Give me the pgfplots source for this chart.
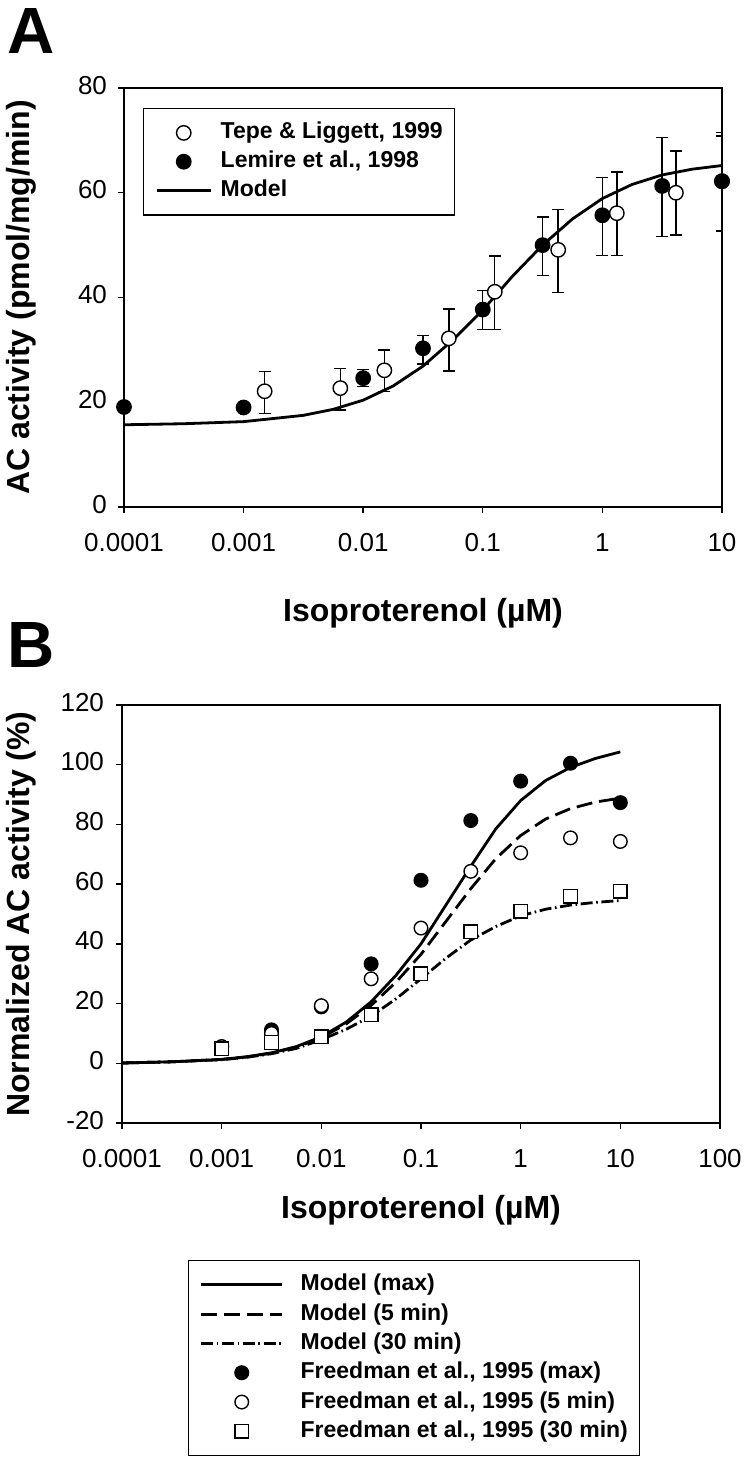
\documentclass[border=0pt]{standalone}
\usepackage{fontspec}
\setmainfont{Liberation Sans}
\usepackage{pgfplots}
\pgfplotsset{compat=1.18}

\begin{document}
\begin{tikzpicture}
\useasboundingbox (-62pt,-478pt) rectangle (312pt,253.5pt);

\node[font=\bfseries\fontsize{32.7}{34}\selectfont] at (-46.5pt,238pt) {A};
\node[font=\bfseries\fontsize{32.7}{34}\selectfont] at (-46.5pt,-69pt) {B};

% ---- panel A
\begin{axis}[
  scale only axis, width=299pt, height=209.5pt,
  at={(0pt,0pt)}, anchor=south west,
  xmode=log, xminorticks=false,
  tick pos=left, tick align=outside, major tick length=3pt,
  axis line style={line width=0.7pt},
  every tick/.style={black, line width=0.7pt},
  /pgf/number format/assume math mode=true,
  typeset ticklabels with strut,
  tick label style={font=\fontsize{13}{15}\selectfont},
  xticklabel style={yshift=-5pt},
  yticklabel style={xshift=-2pt},
  label style={font=\bfseries\fontsize{16}{18}\selectfont},
  xmin=0.0001, xmax=10, ymin=0, ymax=80,
  xtick={0.0001,0.001,0.01,0.1,1,10},
  xticklabels={0.0001,0.001,0.01,0.1,1,10},
  ytick={0,20,40,60,80},
  yticklabels={0,20,40,60,80},
  xlabel={Isoproterenol (µM)},
  ylabel={AC activity (pmol/mg/min)},
  xlabel style={at={(axis description cs:0.5,-0.253)}, anchor=center},
  ylabel style={at={(axis description cs:-0.171,0.5)}, anchor=center},
  legend cell align=left,
  legend image code/.code={\draw[mark repeat=2,mark phase=2,#1] plot coordinates {(0pt,0pt) (13.5pt,0pt) (27pt,0pt)};},
  legend style={at={(0.032,0.953)}, anchor=north west, draw=black,
    line width=0.6pt, inner xsep=5.8pt, inner ysep=6.3pt, row sep=2.4pt,
    font=\bfseries\fontsize{11.5}{13}\selectfont,
    nodes={inner sep=0pt, text height=9pt, text depth=3pt},
    /tikz/every odd column/.append style={column sep=4.3pt}},
]
% model
\addplot[black, line width=1.4pt, forget plot] coordinates {
 (0.0001,15.7) (0.0003162,15.9) (0.001,16.3) (0.003162,17.5) (0.005623,18.65)
 (0.01,20.4) (0.01778,23.1) (0.03162,26.9) (0.05623,31.9) (0.1,37.6)
 (0.1778,44.1) (0.3162,50.0) (0.5623,55.0) (1,58.9) (1.778,61.6)
 (3.162,63.4) (5.623,64.5) (10,65.2)};
% Tepe & Liggett 1999
\addplot[only marks, mark=*, mark size=3.6pt,
  mark options={fill=white, draw=black, line width=0.7pt},
  error bars/.cd, y dir=both, y explicit,
  error bar style={line width=0.7pt},
  error mark options={rotate=90, line width=0.7pt, mark size=3pt}]
 coordinates {
 (0.0015,22.1) += (0,3.8) -= (0,4.2)
 (0.00644,22.7) += (0,3.7) -= (0,4.2)
 (0.01503,26.1) += (0,3.9) -= (0,4.1)
 (0.052,32.2) += (0,5.6) -= (0,6.2)
 (0.126,41.1) += (0,6.8) -= (0,7.2)
 (0.427,49.1) += (0,7.7) -= (0,8.1)
 (1.32,56.1) += (0,7.9) -= (0,8.1)
 (4.12,60.0) += (0,8.0) -= (0,8.1)
 (10,62.2) += (0,9.3) -= (0,9.5)};
\addlegendentry{Tepe \& Liggett, 1999}
% Lemire et al. 1998
\addplot[only marks, mark=*, mark size=3.6pt,
  mark options={fill=black, draw=black, line width=0.7pt},
  error bars/.cd, y dir=both, y explicit,
  error bar style={line width=0.7pt},
  error mark options={rotate=90, line width=0.7pt, mark size=3pt}]
 coordinates {
 (0.0001,19.1) += (0,0.9) -= (0,0.9)
 (0.001,19.0) += (0,0.8) -= (0,0.8)
 (0.01,24.6) += (0,1.6) -= (0,1.6)
 (0.03162,30.3) += (0,2.5) -= (0,3.0)
 (0.1,37.7) += (0,3.6) -= (0,3.8)
 (0.3162,50.0) += (0,5.4) -= (0,5.8)
 (1,55.7) += (0,7.2) -= (0,7.7)
 (3.162,61.3) += (0,9.2) -= (0,9.6)
 (10,62.2) += (0,8.6) -= (0,9.6)};
\addlegendentry{Lemire et al., 1998}
\addlegendimage{black, line width=1.4pt}
\addlegendentry{Model}
\end{axis}

% ---- panel B
\begin{axis}[
  scale only axis, width=299pt, height=209pt,
  at={(-1pt,-308pt)}, anchor=south west,
  xmode=log, xminorticks=false,
  tick pos=left, tick align=outside, major tick length=3pt,
  axis line style={line width=0.7pt},
  every tick/.style={black, line width=0.7pt},
  /pgf/number format/assume math mode=true,
  typeset ticklabels with strut,
  tick label style={font=\fontsize{13}{15}\selectfont},
  xticklabel style={yshift=-5pt},
  yticklabel style={xshift=-2.5pt},
  label style={font=\bfseries\fontsize{16}{18}\selectfont},
  xmin=0.0001, xmax=100, ymin=-20, ymax=120,
  xtick={0.0001,0.001,0.01,0.1,1,10,100},
  xticklabels={0.0001,0.001,0.01,0.1,1,10,100},
  ytick={-20,0,20,40,60,80,100,120},
  yticklabels={-20,0,20,40,60,80,100,120},
  xlabel={Isoproterenol (µM)},
  ylabel={Normalized AC activity (\%)},
  xlabel style={at={(axis description cs:0.5,-0.208)}, anchor=center},
  ylabel style={at={(axis description cs:-0.168,0.5)}, anchor=center},
  legend cell align=left,
  legend image code/.code={\draw[mark repeat=2,mark phase=2,#1] plot coordinates {(0pt,0pt) (20.25pt,0pt) (40.5pt,0pt)};},
  legend style={at={(0.1098,-0.3278)}, anchor=north west, draw=black,
    line width=0.6pt, inner xsep=5.8pt, inner ysep=6.1pt, row sep=2.65pt,
    font=\bfseries\fontsize{11.5}{13}\selectfont,
    nodes={inner sep=0pt, text height=9pt, text depth=3pt},
    /tikz/every odd column/.append style={column sep=8.5pt}},
]
\addplot[black, line width=1.4pt] coordinates {
 (0.0001,0.1) (0.0003162,0.5) (0.001,1.3) (0.001778,2.2) (0.003162,3.5)
 (0.005623,5.6) (0.01,8.9) (0.01778,13.8) (0.03162,20.6) (0.05623,29.5)
 (0.1,40.0) (0.1778,53.0) (0.3162,66.0) (0.5623,78.5) (1,88.0)
 (1.778,94.7) (3.162,99.1) (5.623,102.1) (10,104.3)};
\addlegendentry{Model (max)}
\addplot[black, line width=1.4pt, dash pattern=on 8pt off 3.5pt] coordinates {
 (0.0001,0.1) (0.0003162,0.5) (0.001,1.3) (0.001778,2.1) (0.003162,3.4)
 (0.005623,5.4) (0.01,8.6) (0.01778,13.2) (0.03162,19.4) (0.05623,27.2)
 (0.1,36.5) (0.1778,47.5) (0.3162,58.5) (0.5623,68.5) (1,76.3)
 (1.778,81.8) (3.162,85.3) (5.623,87.5) (10,88.8)};
\addlegendentry{Model (5 min)}
\addplot[black, line width=1.4pt, dash pattern=on 6pt off 1.8pt on 0.8pt off 1.8pt] coordinates {
 (0.0001,0.1) (0.0003162,0.5) (0.001,1.2) (0.001778,2.0) (0.003162,3.2)
 (0.005623,5.0) (0.01,7.9) (0.01778,11.4) (0.03162,15.8) (0.05623,21.6)
 (0.1,28.3) (0.1778,35.2) (0.3162,41.3) (0.5623,45.8) (1,49.4)
 (1.778,51.6) (3.162,53.0) (5.623,53.9) (10,54.5)};
\addlegendentry{Model (30 min)}
\addplot[only marks, mark=*, mark size=3.4pt,
  mark options={fill=black, draw=black, line width=0.7pt}] coordinates {
 (0.001,5.5) (0.003162,11.2) (0.01,18.9) (0.03162,33.3) (0.1,61.3)
 (0.3162,81.3) (1,94.5) (3.162,100.5) (10,87.3)};
\addlegendentry{Freedman et al., 1995 (max)}
\addplot[only marks, mark=*, mark size=3.4pt,
  mark options={fill=white, draw=black, line width=0.7pt}] coordinates {
 (0.001,5.6) (0.003162,10.0) (0.01,19.3) (0.03162,28.3) (0.1,45.3)
 (0.3162,64.3) (1,70.5) (3.162,75.5) (10,74.3)};
\addlegendentry{Freedman et al., 1995 (5 min)}
\addplot[only marks, mark=square*, mark size=3.4pt,
  mark options={fill=white, draw=black, line width=0.7pt}] coordinates {
 (0.001,4.8) (0.003162,7.0) (0.01,8.9) (0.03162,16.3) (0.1,30.0)
 (0.3162,44.1) (1,51.0) (3.162,55.9) (10,57.6)};
\addlegendentry{Freedman et al., 1995 (30 min)}
\end{axis}
\end{tikzpicture}
\end{document}
